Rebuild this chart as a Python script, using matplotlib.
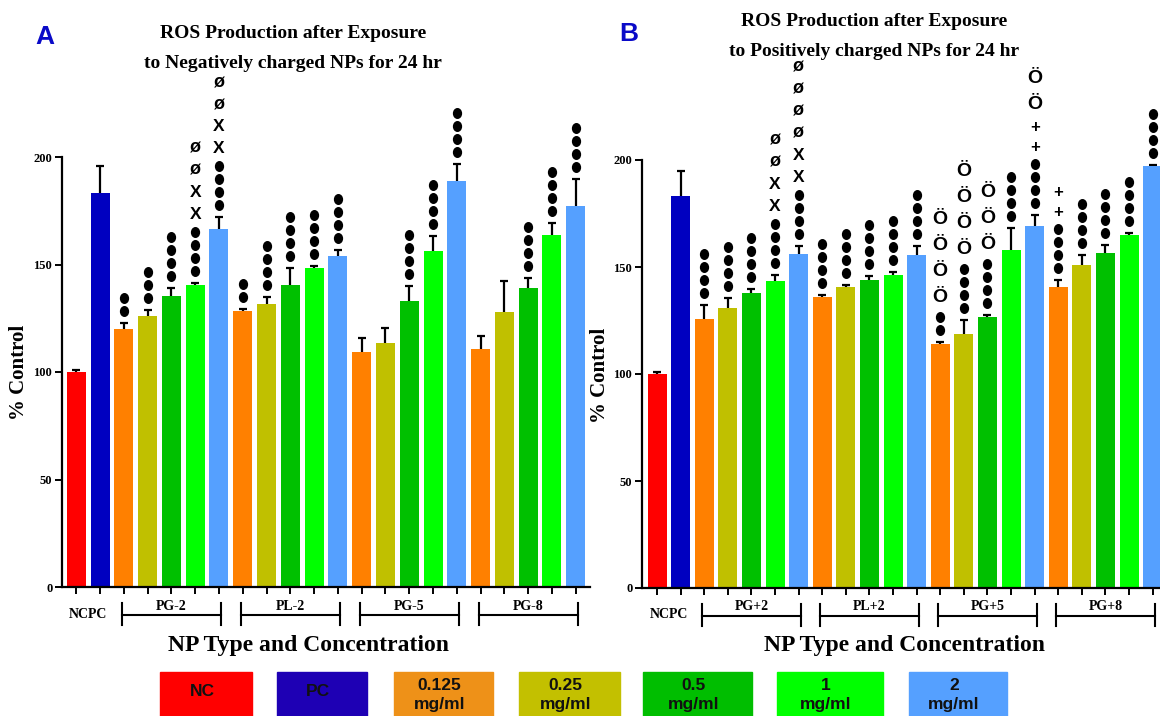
import numpy as np
import matplotlib.pyplot as plt
from matplotlib.patches import Rectangle
from matplotlib.path import Path
from matplotlib.transforms import Affine2D, blended_transform_factory, offset_copy

# bar order: NC, PC, then each NP type at 0.125, 0.25, 0.5, 1, 2 mg/ml
groups_a = ['PG-2', 'PL-2', 'PG-5', 'PG-8']
groups_b = ['PG+2', 'PL+2', 'PG+5', 'PG+8']

means_a = [100.0, 183.4,
           119.8, 126.2, 135.3, 140.3, 166.7,
           128.5, 131.8, 140.3, 148.2, 154.1,
           109.2, 113.6, 133.0, 156.4, 189.0,
           110.9, 127.8, 139.1, 163.9, 177.2]
errs_a = [0.8, 12.4,
          3.0, 2.6, 3.6, 1.2, 5.3,
          1.0, 3.0, 8.0, 1.3, 2.6,
          6.5, 6.7, 7.1, 7.0, 7.6,
          6.0, 14.4, 4.8, 5.6, 12.4]
means_b = [100.1, 183.0,
           125.7, 130.7, 138.0, 143.6, 156.0,
           135.8, 140.8, 143.8, 146.2, 155.6,
           114.0, 118.7, 126.7, 158.0, 169.1,
           140.6, 151.0, 156.4, 164.9, 197.0]
errs_b = [0.8, 12.0,
          6.6, 4.8, 1.6, 2.7, 4.0,
          1.1, 0.6, 2.2, 1.6, 4.4,
          1.0, 6.7, 1.1, 10.3, 5.0,
          3.5, 4.8, 3.7, 1.2, 0.6]

# significance symbols, listed bottom to top
marks_a = ['', '',
           '●●', '●●●', '●●●●', '●●●●XXøø', '●●●●XXøø',
           '●●', '●●●●', '●●●●', '●●●●', '●●●●',
           '', '', '●●●●', '●●●●', '●●●●',
           '', '', '●●●●', '●●●●', '●●●●']
marks_b = ['', '',
           '●●●●', '●●●●', '●●●●', '●●●●XXøø', '●●●●XXøøøø',
           '●●●●', '●●●●', '●●●●', '●●●●', '●●●●',
           '●●ÖÖÖÖ', '●●●●ÖÖÖÖ', '●●●●ÖÖÖ', '●●●●', '●●●●++ÖÖ',
           '●●●●++', '●●●●', '●●●●', '●●●●', '●●●●']

legend_labels = ['NC', 'PC', '0.125\nmg/ml', '0.25\nmg/ml', '0.5\nmg/ml', '1\nmg/ml', '2\nmg/ml']

bar_colors = ['#FF0000', '#0000C0'] + ['#FF8000', '#C0C000', '#00C000', '#00FF00', '#55A0FF'] * 4
legend_colors = ['#FF0000', '#1E00B4', '#EE9118', '#C3C000', '#00BE00', '#00FF00', '#55A0FF']
legend_px = [(160, 252), (277, 367), (394, 493), (519, 620), (643, 752), (777, 883), (909, 1007)]

W, H = 1160, 716
SERIF = 'Liberation Serif'
SANS = ['Liberation Sans', 'DejaVu Sans']

# symbol heights in pixels, used for stacking
sym_h = {'●': 13.0, 'X': 22.0, 'ø': 22.0, 'Ö': 26.0, '+': 20.0}
sym_size = {'X': 12.5, 'ø': 13, 'Ö': 14, '+': 12}
# slightly tall dot, like the bold bullet glyph
dot = Path.unit_circle().transformed(Affine2D().scale(0.82, 1.0))

fig = plt.figure(figsize=(W / 100, H / 100), dpi=100)


def panel(rect_px, xlim, means, errs, marks, groups):
    left, top, width, height = rect_px
    ax = fig.add_axes([left / W, 1 - (top + height) / H, width / W, height / H])
    x = np.arange(len(means))
    ax.errorbar(x, means, yerr=errs, fmt='none', ecolor='black',
                elinewidth=1.6, capsize=3.2, capthick=1.6, zorder=1)
    ax.bar(x, means, width=0.8, color=bar_colors, zorder=2)
    ax.set_xlim(*xlim)
    ax.set_ylim(0, 200)
    ax.set_yticks([0, 50, 100, 150, 200])
    ax.set_xticks(x)
    ax.set_xticklabels([])
    for s in ['top', 'right']:
        ax.spines[s].set_visible(False)
    for s in ['left', 'bottom']:
        ax.spines[s].set_linewidth(1.6)
    ax.tick_params(direction='out', length=5, width=1.4, pad=2)
    for t in ax.get_yticklabels():
        t.set_fontfamily(SERIF)
        t.set_fontweight('bold')
        t.set_fontsize(9)

    # stacked significance marks above each error bar
    for xi, m, e, s in zip(x, means, errs, marks):
        pos = 0.0
        prev = None
        for ch in s:
            if prev is None:
                pos = 12.0
            else:
                pos += (sym_h[prev] + sym_h[ch]) / 2
            if ch == '●':
                tr = offset_copy(ax.transData, fig=fig, x=0, y=pos * 0.72, units='points')
                ax.plot([xi], [m + e], marker=dot, ms=6.9, color='black',
                        lw=0, transform=tr, clip_on=False)
            else:
                ax.annotate(ch, xy=(xi, m + e), xytext=(0, pos * 0.72),
                            textcoords='offset points', ha='center', va='center',
                            fontsize=sym_size[ch], fontweight='bold',
                            family=SANS, annotation_clip=False)
            prev = ch

    # group brackets under the axis
    tr = blended_transform_factory(ax.transData, ax.transAxes)
    below = lambda px: -px / height
    ax.text(0.5, below(27), 'NCPC', transform=tr, ha='center', va='center',
            family=SERIF, fontweight='bold', fontsize=10)
    for g, name in enumerate(groups):
        a = 2 + 5 * g - 0.08
        b = 6 + 5 * g + 0.08
        ax.plot([a, b], [below(28), below(28)], color='black', lw=1.5,
                transform=tr, clip_on=False)
        for xe in (a, b):
            ax.plot([xe, xe], [below(16), below(38)], color='black', lw=1.5,
                    transform=tr, clip_on=False)
        ax.text((a + b) / 2, below(19), name, transform=tr, ha='center',
                va='center', family=SERIF, fontweight='bold', fontsize=10)
    return ax


panel((62, 157, 528, 430), (-0.6, 21.6), means_a, errs_a, marks_a, groups_a)
panel((642, 160, 518, 428), (-0.64, 21.31), means_b, errs_b, marks_b, groups_b)


def ftext(xp, yp, s, **kw):
    fig.text(xp / W, 1 - yp / H, s, ha='center', va='center', **kw)


title_kw = dict(family=SERIF, fontweight='bold', fontsize=14)
ftext(293, 33, 'ROS Production after Exposure', **title_kw)
ftext(293, 63, 'to Negatively charged NPs for 24 hr', **title_kw)
ftext(874, 22, 'ROS Production after Exposure', **title_kw)
ftext(874, 52, 'to Positively charged NPs for 24 hr', **title_kw)

ftext(45, 37, 'A', family=SANS, fontweight='bold', fontsize=19, color='#0A0AC8')
ftext(629, 34, 'B', family=SANS, fontweight='bold', fontsize=19, color='#0A0AC8')

ylab_kw = dict(family=SERIF, fontweight='bold', fontsize=15, rotation=90)
ftext(19, 372, '% Control', **ylab_kw)
ftext(600, 375, '% Control', **ylab_kw)

xlab_kw = dict(family=SERIF, fontweight='bold', fontsize=17)
ftext(309, 645, 'NP Type and Concentration', **xlab_kw)
ftext(905, 645, 'NP Type and Concentration', **xlab_kw)

# colour key along the bottom edge
key_kw = dict(family=SANS, fontweight='bold', fontsize=12.5, color='#111111')
for (x0, x1), c, lab in zip(legend_px, legend_colors, legend_labels):
    fig.patches.append(Rectangle((x0 / W, -0.05), (x1 - x0) / W, 0.05 + 1 - 672 / H,
                                 transform=fig.transFigure, color=c, zorder=0))
    cx = (x0 + x1) / 2 - 4
    lines = lab.split('\n')
    if len(lines) == 1:
        ftext(cx, 692, lines[0], **key_kw)
    else:
        ftext(cx, 685, lines[0], **key_kw)
        ftext(cx, 705, lines[1], **key_kw)

fig.savefig('out.png', dpi=100)
